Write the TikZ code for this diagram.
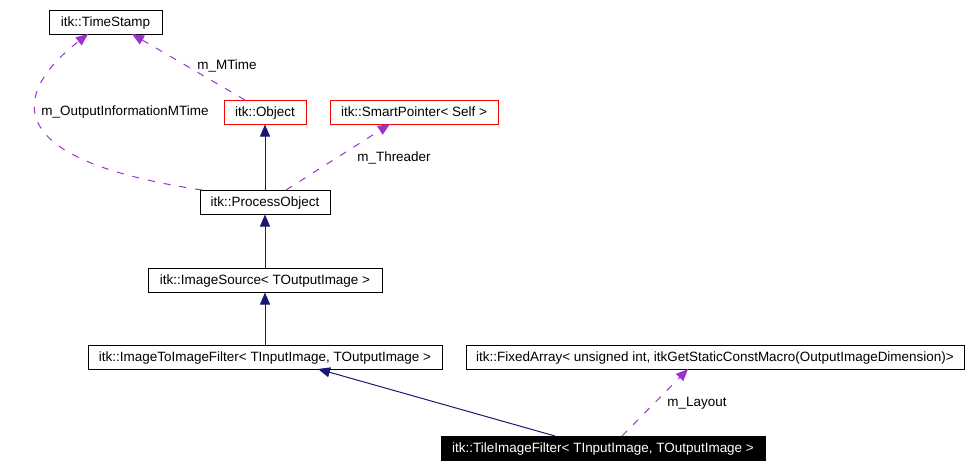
\documentclass[tikz,border=0pt]{standalone}
\usepackage{fontspec}
\setmainfont{Liberation Sans}
\usetikzlibrary{arrows.meta}
\definecolor{inh}{HTML}{191970}
\definecolor{usg}{HTML}{9A32CD}
\tikzset{
  cls/.style={draw=black, line width=0.75pt, fill=white, inner sep=0pt, minimum height=18pt, text height=7.2pt, text depth=0pt, font=\fontsize{10.1pt}{12pt}\selectfont},
  redcls/.style={cls, draw=red},
  curcls/.style={cls, fill=black, text=white},
  inhe/.style={draw=inh, line width=0.75pt, -{Triangle[length=9pt,width=7.5pt]}, color=inh},
  use/.style={draw=usg, line width=0.75pt, dash pattern=on 5.25pt off 6.75pt, -{Triangle[length=9pt,width=7.5pt]}, color=usg},
  lbl/.style={font=\fontsize{10.1pt}{12pt}\selectfont, text=black, inner sep=0pt, text height=7.2pt, text depth=0pt}
}
\begin{document}
\begin{tikzpicture}[x=0.75pt,y=-0.75pt]
\useasboundingbox (0,0) rectangle (970,468);
\fill[white] (0,0) rectangle (970,468);
\node[cls, minimum width=84.75pt] (ts) at (105.5,22) {itk::TimeStamp};
\node[redcls, minimum width=61.5pt] (obj) at (265,112) {itk::Object};
\node[redcls, minimum width=126pt] (sp) at (414,112) {itk::SmartPointer< Self >};
\node[cls, minimum width=97.5pt] (po) at (265,202) {itk::ProcessObject};
\node[cls, minimum width=175.5pt] (is) at (265,280) {itk::ImageSource< TOutputImage >};
\node[cls, minimum width=265.5pt] (itif) at (265,357) {itk::ImageToImageFilter< TInputImage, TOutputImage >};
\node[cls, minimum width=373.5pt] (fa) at (715,357) {itk::FixedArray< unsigned int, itkGetStaticConstMacro(OutputImageDimension)>};
\node[curcls, minimum width=243pt] (tif) at (603,448) {itk::TileImageFilter< TInputImage, TOutputImage >};
% inheritance
\draw[inhe] (po.north) -- (obj.south);
\draw[inhe] (is.north) -- (po.south);
\draw[inhe] (itif.north) -- (is.south);
\coordinate (tifa) at (555,436);
\coordinate (itifb) at (318,369);
\draw[inhe] (tifa) -- (itifb);
% usage
\coordinate (poa) at (202,190);
\coordinate (tsa) at (88,34);
\draw[use] (poa) .. controls (0,160) and (10,95) .. (tsa);
\node[lbl] (l1) at (125,111) {m\_OutputInformationMTime};
\coordinate (objt) at (245,100);
\coordinate (tsb) at (132,34);
\draw[use] (objt) -- (tsb);
\node[lbl] (l2) at (227,65) {m\_MTime};
\coordinate (pob) at (286,190);
\coordinate (spb) at (390,124);
\draw[use] (pob) -- (spb);
\node[lbl] (l3) at (394,157) {m\_Threader};
\coordinate (tift) at (622,436);
\coordinate (fab) at (688,369);
\draw[use] (tift) -- (fab);
\node[lbl] (l4) at (697,402) {m\_Layout};
\end{tikzpicture}
\end{document}
